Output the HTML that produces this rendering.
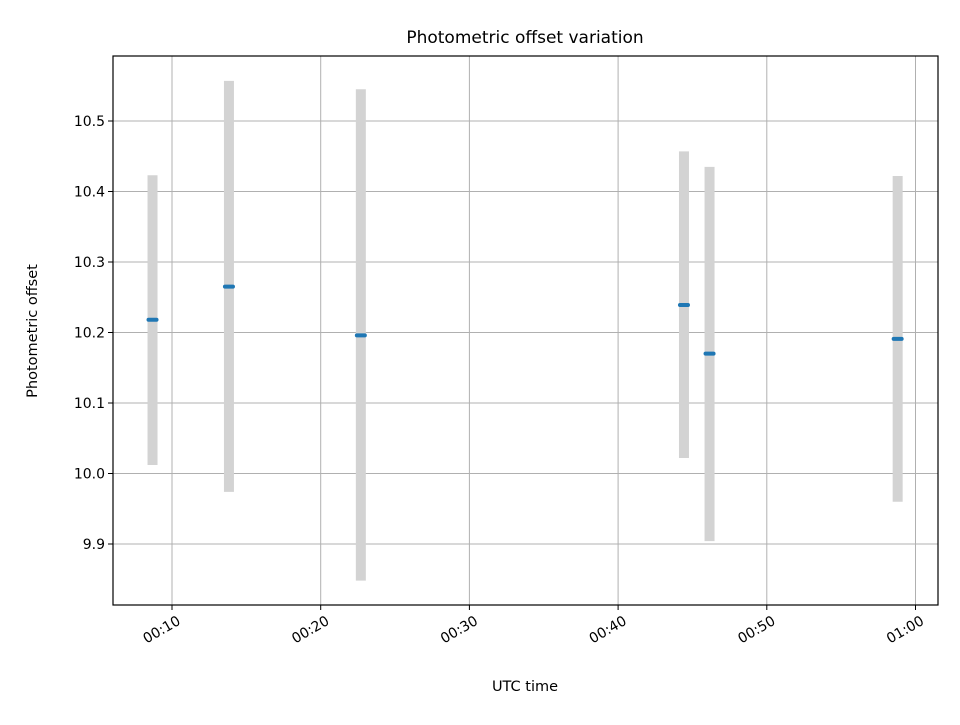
<!DOCTYPE html>
<html><head><meta charset="utf-8"><style>
body{margin:0;background:#fff;font-family:"Liberation Sans","DejaVu Sans",sans-serif}
svg text{font-family:"DejaVu Sans","Liberation Sans",sans-serif}
</style></head><body>
<svg id="chart" width="960" height="720" xmlns="http://www.w3.org/2000/svg">
<rect width="960" height="720" fill="#fff"/>
<g id="grid"></g><g id="bars"></g><g id="ticks"></g>
<rect x="113" y="56" width="825" height="549" fill="none" stroke="#000" stroke-width="1.2"/>
<text x="525" y="43" text-anchor="middle" font-size="17">Photometric offset variation</text>
<text x="525" y="691" text-anchor="middle" font-size="14.5">UTC time</text>
<text transform="translate(37,331) rotate(-90)" text-anchor="middle" font-size="14.5">Photometric offset</text>
</svg>
<script>
const timesMin=[8.69,13.83,22.7,44.43,46.15,58.8];
const values=[10.218,10.265,10.196,10.239,10.170,10.191];
const errLow=[0.206,0.291,0.348,0.217,0.266,0.231];
const errHigh=[0.205,0.292,0.349,0.218,0.265,0.231];
const xTickMin=[10,20,30,40,50,60];
const xTickLabels=["00:10","00:20","00:30","00:40","00:50","01:00"];
const yTicks=[9.9,10.0,10.1,10.2,10.3,10.4,10.5];
const yTickLabels=["9.9","10.0","10.1","10.2","10.3","10.4","10.5"];
const L=113,R=938,T=56,B=605;
const xs=m=>172+(m-10)*14.87;
const ys=v=>473.5-(v-10)*705;
const NS="http://www.w3.org/2000/svg";
function mk(tag,attrs,parent,txt){const e=document.createElementNS(NS,tag);for(const k in attrs)e.setAttribute(k,attrs[k]);if(txt!==undefined)e.textContent=txt;document.getElementById(parent).appendChild(e);return e;}
xTickMin.forEach((m,i)=>{const x=xs(m);
 const g=mk('line',{x1:x,x2:x,y1:T,y2:B,stroke:'#b0b0b0','stroke-width':1},'grid');
 
 
 const t=mk('line',{x1:x,x2:x,y1:B,y2:B+5,stroke:'#000'},'ticks');
 
 
 const l=mk('text',{x:0,y:11,'text-anchor':'end','font-size':14,transform:`translate(${x+4},${B+9}) rotate(-30)`},'ticks',xTickLabels[i]);
 
 
});
yTicks.forEach((v,i)=>{const y=ys(v);
 const g=mk('line',{x1:L,x2:R,y1:y,y2:y,stroke:'#b0b0b0','stroke-width':1},'grid');
 
 
 const t=mk('line',{x1:L-5,x2:L,y1:y,y2:y,stroke:'#000'},'ticks');
 
 
 const l=mk('text',{x:L-8,y:y+5,'text-anchor':'end','font-size':14},'ticks',yTickLabels[i]);
 
 
});
timesMin.forEach((m,i)=>{const x=xs(m);
 const e=mk('line',{x1:x,x2:x,y1:ys(values[i]+errHigh[i]),y2:ys(values[i]-errLow[i]),stroke:'#d3d3d3','stroke-width':10},'bars');
 
 
 const p=mk('line',{x1:x-4,x2:x+4,y1:ys(values[i]),y2:ys(values[i]),stroke:'#1f77b4','stroke-width':4,'stroke-linecap':'round'},'bars');
 
 
});
</script>
</body></html>
